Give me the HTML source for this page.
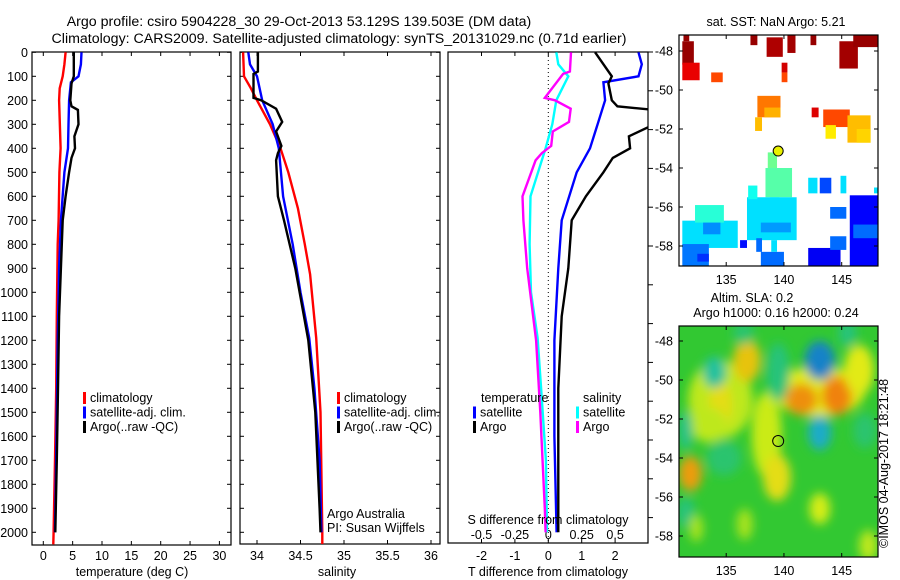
<!DOCTYPE html>
<html><head><meta charset="utf-8"><style>
html,body{margin:0;padding:0;background:#fff}
svg{display:block}
text{font-family:"Liberation Sans",sans-serif;fill:#000}
</style></head><body>
<svg id="fig" width="900" height="580" viewBox="0 0 900 580" xmlns="http://www.w3.org/2000/svg">
<defs>
<filter id="blur" x="-20%" y="-20%" width="140%" height="140%"><feGaussianBlur stdDeviation="5"/></filter>
<clipPath id="c1"><rect x="32" y="52" width="199" height="493"/></clipPath>
<clipPath id="c2"><rect x="240" y="52" width="200" height="492"/></clipPath>
<clipPath id="c3"><rect x="448" y="52" width="200" height="491"/></clipPath>
<clipPath id="cm1"><rect x="679" y="35" width="199" height="231"/></clipPath>
<clipPath id="cm2"><rect x="679" y="326" width="199" height="231"/></clipPath>
</defs>
<text x="299" y="26" font-size="14.2" text-anchor="middle">Argo profile: csiro 5904228_30 29-Oct-2013 53.129S 139.503E (DM data)</text>
<text x="339" y="43" font-size="14.2" text-anchor="middle">Climatology: CARS2009. Satellite-adjusted climatology: synTS_20131029.nc (0.71d earlier)</text>
<g id="layer"></g>
</svg>
<script>
// ---- temperature profiles (depth m, deg C)
const climTDepth=[0,50,100,150,200,400,500,700,800,1100,1400,1700,2000,2050];
const climT=[3.8,3.6,3.3,2.8,2.7,2.95,2.75,2.6,2.45,2.3,2.2,2.0,1.75,1.7];
const satTDepth=[0,50,100,125,200,300,400,500,700,900,1200,1600,2000];
const satT=[6.5,6.4,6.0,4.7,4.4,4.3,4.2,3.6,3.0,2.7,2.45,2.25,2.0];
const argoTDepth=[0,100,130,200,225,240,300,350,400,440,500,600,700,900,1100,1400,1700,2000];
const argoT=[5.2,5.2,4.8,4.6,4.8,5.9,6.0,5.3,5.4,4.8,4.4,3.8,3.3,3.0,2.7,2.5,2.3,2.05];
// ---- salinity profiles
const climSDepth=[0,100,150,200,300,400,500,650,800,925,1190,1500,2000,2050];
const climS=[33.84,33.85,33.93,34.0,34.15,34.27,34.36,34.47,34.55,34.61,34.68,34.73,34.75,34.75];
const satSDepth=[0,50,100,200,300,400,600,800,1000,1190,1400,1700,2000];
const satS=[33.90,33.92,34.0,34.06,34.18,34.25,34.3,34.41,34.5,34.6,34.66,34.72,34.74];
const argoSDepth=[0,80,90,190,200,235,290,330,390,420,450,600,700,900,1200,1500,1900,2000];
const argoS=[34.01,34.01,33.96,33.96,34.05,34.22,34.29,34.22,34.28,34.24,34.22,34.24,34.31,34.44,34.59,34.67,34.72,34.73];
// ---- axis ticks
const depthTicks=[0,100,200,300,400,500,600,700,800,900,1000,1100,1200,1300,1400,1500,1600,1700,1800,1900,2000];
const tempTicks=[0,5,10,15,20,25,30];
const salTicks=[34,34.5,35,35.5,36];
const salTickLabels=["34","34.5","35","35.5","36"];
const tdiffTicks=[-2,-1,0,1,2];
const sdiffTicks=[-0.5,-0.25,0,0.25,0.5];
const sdiffLabels=["-0.5","-0.25","0","0.25","0.5"];
const lonTicks=[135,140,145];
const latTicks=[-48,-50,-52,-54,-56,-58];
// ---- SST blocks [lon0,lon1,latTop,latBottom,SST]
const sstBlocks=[
[131.2,132.2,-47.5,-48.7,9.5],[131.2,132.7,-48.6,-49.5,8.8],[131.3,131.8,-47.2,-47.5,9.5],
[137.1,137.7,-47.2,-47.7,9.5],[138.5,139.9,-47.3,-48.3,9.3],[140.3,141.0,-47.2,-48.1,9.4],
[142.3,142.8,-47.2,-47.7,9.5],[144.8,146.4,-47.5,-48.9,9.4],[146.0,148.2,-47.2,-47.8,9.5],
[139.8,140.3,-48.6,-49.1,9.0],[133.7,134.7,-49.1,-49.6,8.0],[139.8,140.3,-49.1,-49.6,8.0],
[137.7,139.7,-50.3,-51.4,7.6],[138.3,139.7,-50.9,-51.4,7.1],[137.5,138.1,-51.4,-52.1,7.0],[142.4,143.0,-50.9,-51.4,8.9],
[143.4,145.7,-51.0,-51.9,8.0],[143.6,144.5,-51.8,-52.5,6.6],[145.5,147.5,-51.3,-52.7,7.0],
[146.3,147.5,-52.0,-52.7,6.8],
[138.6,139.4,-53.2,-54.1,5.2],[138.4,140.7,-54.0,-55.5,5.0],[138.8,139.6,-55.5,-56.3,4.7],
[142.1,142.9,-54.5,-55.3,4.0],[143.1,144.1,-54.5,-55.3,2.7],[144.9,145.4,-54.4,-55.3,4.0],
[147.8,148.2,-55.0,-55.3,4.0],
[131.2,136.0,-56.7,-58.1,4.0],[132.3,134.8,-55.9,-56.8,4.6],[133.0,134.5,-56.8,-57.4,3.3],
[136.8,141.1,-55.5,-57.7,4.0],[138.0,140.6,-56.8,-57.3,3.4],[136.9,137.7,-54.9,-55.6,4.4],
[136.2,136.8,-57.7,-58.1,2.2],[131.2,133.5,-57.9,-59.1,3.1],[132.5,133.5,-58.4,-58.8,2.5],
[138.0,140.0,-58.3,-59.1,3.0],[137.6,138.1,-57.6,-58.3,3.0],[138.9,139.4,-57.7,-58.3,4.0],
[144.0,145.4,-56.0,-56.6,3.0],[145.7,148.2,-55.4,-59.1,2.1],[142.1,144.9,-58.1,-59.1,2.0],
[144.0,145.4,-57.5,-58.2,3.0],[146.0,148.2,-56.9,-57.6,3.0]
];
// ---- SLA blobs [lon,lat,rxDeg,ryDeg,level 0..1]
const slaBlobs=[
[134.5,-51.0,2.8,2.0,0.62],[136.8,-49.0,1.2,1.1,0.72],[134.5,-51.3,1.0,1.3,0.68],
[133.5,-52.3,1.6,0.9,0.62],[138.5,-52.8,1.3,2.2,0.63],[139.4,-55.0,1.2,1.2,0.68],
[143.0,-50.6,4.0,1.3,0.66],[141.5,-51.0,1.4,0.8,0.8],[144.6,-50.8,1.3,1.0,0.82],
[146.5,-49.5,1.3,1.3,0.66],[131.9,-54.8,1.0,0.9,0.78],[143.1,-56.6,0.9,0.8,0.64],
[134.0,-49.6,1.0,0.8,0.32],[139.5,-49.6,1.0,1.5,0.38],[143.1,-49.0,1.3,1.0,0.15],
[143.1,-52.7,1.0,0.9,0.22],[131.5,-52.6,0.6,1.0,0.35],[134.8,-54.0,1.5,0.9,0.4],
[131.5,-56.8,0.8,0.8,0.38],[147.0,-52.6,1.0,0.9,0.4],[145.5,-47.6,0.8,0.7,0.38],[136.5,-47.6,0.9,0.6,0.4],
[136.6,-57.4,0.7,0.8,0.6],[132.4,-57.6,0.6,0.7,0.6],[147.3,-58.5,0.8,0.8,0.62]
];

const NS="http://www.w3.org/2000/svg";
const layer=document.getElementById('layer');
function mk(tag,attrs,parent){const e=document.createElementNS(NS,tag);for(const k in attrs)e.setAttribute(k,attrs[k]);(parent||layer).appendChild(e);return e;}
function txt(x,y,s,size,anchor,parent){const t=mk('text',{x:x,y:y,'font-size':size,'text-anchor':anchor||'middle'},parent);t.textContent=s;return t;}
function interp(ds,vs,d){if(d<=ds[0])return vs[0];for(let i=1;i<ds.length;i++){if(d<=ds[i]){const f=(d-ds[i-1])/(ds[i]-ds[i-1]);return vs[i-1]+f*(vs[i]-vs[i-1]);}}return vs[vs.length-1];}
const yD=d=>52.3+d*0.24;
const xT=t=>43.3+t*5.87;
const xS=s=>257+(s-34)*87;
const xTd=t=>548.3+t*33.4;
const xSd=s=>548.3+s*133.6;

function line(ds,vs,fx,color,clip,name,w){
  const pts=ds.map((d,i)=>fx(vs[i]).toFixed(1)+','+yD(d).toFixed(1)).join(' ');
  const p=mk('polyline',{points:pts,fill:'none',stroke:color,'stroke-width':w||2.4,'stroke-linejoin':'miter','clip-path':'url(#'+clip+')'});
  
  
}
function frame(x0,y0,x1,y1,name){
  const r=mk('rect',{x:x0,y:y0,width:x1-x0,height:y1-y0,fill:'none',stroke:'#000','stroke-width':1.2});
  
  
}
function depthTicksFor(x0,x1,y1,labels){
  depthTicks.forEach(d=>{const y=yD(d);if(y>y1)return;
    mk('line',{x1:x0,y1:y,x2:x0+4,y2:y,stroke:'#000'});mk('line',{x1:x1-4,y1:y,x2:x1,y2:y,stroke:'#000'});
    if(labels){const t=txt(28,y+4.5,String(d),12.5,'end');
      
      }
  });
}
function xTicks(vals,labs,fx,y0,y1,ly){
  vals.forEach((v,i)=>{const x=fx(v);mk('line',{x1:x,y1:y1,x2:x,y2:y1-4,stroke:'#000'});mk('line',{x1:x,y1:y0,x2:x,y2:y0+4,stroke:'#000'});
    const t=txt(x,ly,labs[i],12.5);
    
    });
}
function legend(x,y,items){
  items.forEach((it,i)=>{mk('rect',{x:x,y:y+i*14.5-10,width:3,height:12,fill:it[0]});
    const t=txt(x+7,y+i*14.5,it[1],12.5,'start');
    
    });
}

// Panel 1: temperature
frame(32,52,231,545,'temperature-panel');
depthTicksFor(32,231,545,true);
xTicks(tempTicks,tempTicks.map(String),xT,52,545,560);
line(climTDepth,climT,xT,'#f00','c1','temp-climatology-line');
line(satTDepth,satT,xT,'#00f','c1','temp-satellite-line');
line(argoTDepth,argoT,xT,'#000','c1','temp-argo-line');
legend(83,402,[['#f00','climatology'],['#00f','satellite-adj. clim.'],['#000','Argo(..raw -QC)']]);
let t=txt(132,576,'temperature (deg C)',12.5);



// Panel 2: salinity
frame(240,52,440,544,'salinity-panel');
depthTicksFor(240,440,544,false);
xTicks(salTicks,salTickLabels,xS,52,544,560);
line(climSDepth,climS,xS,'#f00','c2','sal-climatology-line');
line(satSDepth,satS,xS,'#00f','c2','sal-satellite-line');
line(argoSDepth,argoS,xS,'#000','c2','sal-argo-line');
legend(337,402,[['#f00','climatology'],['#00f','satellite-adj. clim.'],['#000','Argo(..raw -QC)']]);
t=txt(327,518,'Argo Australia',12.5,'start');


t=txt(327,532,'PI: Susan Wijffels',12.5,'start');


t=txt(337,576,'salinity',12.5);



// Panel 3: differences
frame(448,52,648,543,'difference-panel');
for(let y=52;y<=543;y+=38.8){mk('line',{x1:648,y1:y,x2:653,y2:y,stroke:'#000'});}
tdiffTicks.forEach(v=>{const x=xTd(v);mk('line',{x1:x,y1:543,x2:x,y2:539,stroke:'#000'});mk('line',{x1:x,y1:52,x2:x,y2:56,stroke:'#000'});
  const tt=txt(x,560,String(v),12.5);
  
  });
sdiffLabels.forEach((s,i)=>{const tt=txt(xSd(sdiffTicks[i]),539,s,12.5);
  
  });
const zl=mk('line',{x1:548.3,y1:52,x2:548.3,y2:543,stroke:'#000','stroke-dasharray':'1,3'});


const satTd=satTDepth.map((d,i)=>satT[i]-interp(climTDepth,climT,d));
const argoTd=argoTDepth.map((d,i)=>argoT[i]-interp(climTDepth,climT,d));
const satSd=satSDepth.map((d,i)=>satS[i]-interp(climSDepth,climS,d));
const argoSd=argoSDepth.map((d,i)=>argoS[i]-interp(climSDepth,climS,d));
line(satSDepth,satSd,xSd,'#0ff','c3','sal-satellite-diff-line');
line(argoSDepth,argoSd,xSd,'#f0f','c3','sal-argo-diff-line');
line(satTDepth,satTd,xTd,'#00f','c3','temp-satellite-diff-line');
line(argoTDepth,argoTd,xTd,'#000','c3','temp-argo-diff-line');
t=txt(481,402,'temperature',12.5,'start');


t=txt(583,402,'salinity',12.5,'start');


legend(473,416.5,[['#00f','satellite'],['#000','Argo']]);
legend(576,416.5,[['#0ff','satellite'],['#f0f','Argo']]);
t=txt(548,524,'S difference from climatology',12.5);


t=txt(548,576,'T difference from climatology',12.5);



// Maps
const xL=lon=>680+(lon-131)*11.55;
const yL1=lat=>51+(-48-lat)*19.5;
const yL2=lat=>341+(-48-lat)*19.5;
function jet(v){const c=x=>Math.round(255*Math.max(0,Math.min(1,x)));return 'rgb('+c(1.5-Math.abs(4*v-3))+','+c(1.5-Math.abs(4*v-2))+','+c(1.5-Math.abs(4*v-1))+')';}
const sstNorm=s=>(s-1.0)/(9.7-1.0);
// SLA colormap stops
const slaStops=[[0,[0,40,200]],[0.25,[30,190,200]],[0.5,[50,200,50]],[0.65,[225,240,20]],[0.82,[240,130,10]],[1,[220,80,0]]];
function slaCol(v){for(let i=1;i<slaStops.length;i++){if(v<=slaStops[i][0]){const a=slaStops[i-1],b=slaStops[i],f=(v-a[0])/(b[0]-a[0]);return 'rgb('+a[1].map((c,k)=>Math.round(c+f*(b[1][k]-c))).join(',')+')';}}return 'rgb(220,80,0)';}

const g1=mk('g',{'clip-path':'url(#cm1)'});


sstBlocks.forEach(b=>{const r=mk('rect',{x:xL(b[0]),y:yL1(b[2]),width:xL(b[1])-xL(b[0]),height:yL1(b[3])-yL1(b[2]),fill:jet(sstNorm(b[4]))},g1);
  
  });
const c1=mk('circle',{cx:xL(139.5),cy:yL1(-53.13),r:5,fill:'#e8f000',stroke:'#000','stroke-width':1});



const g2=mk('g',{'clip-path':'url(#cm2)'});


mk('rect',{x:679,y:326,width:199,height:231,fill:slaCol(0.5)},g2);
const gb=mk('g',{filter:'url(#blur)'},g2);
slaBlobs.forEach(b=>{const e=mk('ellipse',{cx:xL(b[0]),cy:yL2(b[1]),rx:b[2]*11.55,ry:b[3]*19.5,fill:slaCol(b[4])},gb);
  
  });
const c2=mk('circle',{cx:xL(139.5),cy:yL2(-53.13),r:5.5,fill:'none',stroke:'#000','stroke-width':1});



function mapAxes(y0,y1,yf,name){
  frame(679,y0,878,y1,name);
  lonTicks.forEach(l=>{const x=xL(l);mk('line',{x1:x,y1:y1,x2:x,y2:y1-4,stroke:'#000'});mk('line',{x1:x,y1:y0,x2:x,y2:y0+4,stroke:'#000'});
    const tt=txt(x,y1+18,String(l),12.5);
    
    });
  latTicks.forEach(l=>{const y=yf(l);mk('line',{x1:679,y1:y,x2:683,y2:y,stroke:'#000'});mk('line',{x1:874,y1:y,x2:878,y2:y,stroke:'#000'});
    const tt=txt(673,y+4.5,String(l),12.5,'end');
    
    });
}
mapAxes(35,266,yL1,'sst-map-frame');
mapAxes(326,557,yL2,'sla-map-frame');
t=txt(776,26,'sat. SST: NaN Argo: 5.21',12.5);


t=txt(752,302,'Altim. SLA: 0.2',12.5);


t=txt(776,317,'Argo h1000: 0.16 h2000: 0.24',12.5);


t=mk('text',{x:0,y:0,'font-size':12.5,'text-anchor':'start',transform:'translate(888,548) rotate(-90)'});
t.textContent='©IMOS 04-Aug-2017 18:21:48';


</script>
</body></html>
